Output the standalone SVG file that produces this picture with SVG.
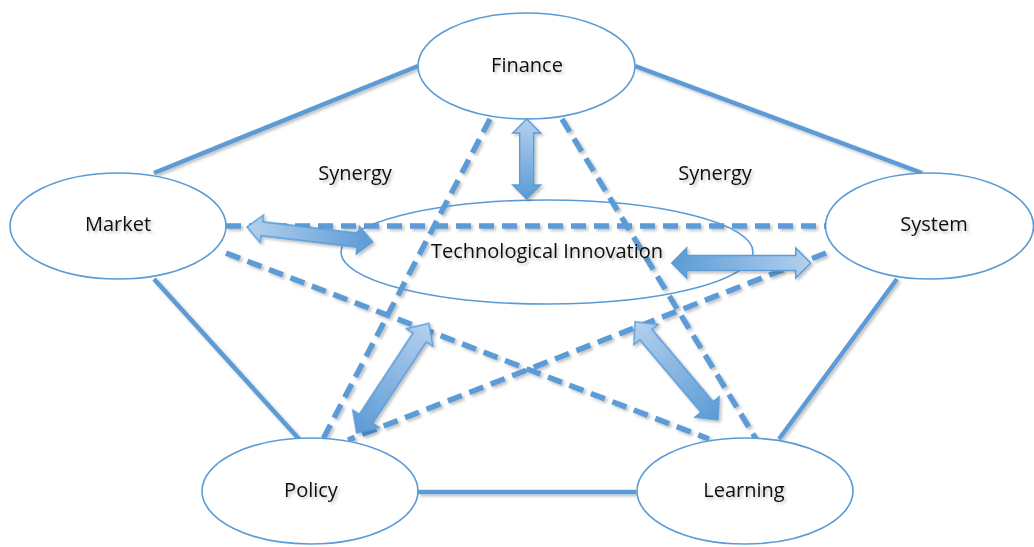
<svg xmlns="http://www.w3.org/2000/svg" width="1034" height="547" viewBox="0 0 1034 547">
  <style>
    .node { fill: #ffffff; stroke: #5b9bd5; stroke-width: 1.6; }
    .core { fill: none; stroke: #5b9bd5; stroke-width: 1.6; }
    .link { stroke: #5b9bd5; stroke-width: 4.5; fill: none; }
    .dash { stroke: #5b9bd5; stroke-width: 5.5; fill: none; stroke-dasharray: 15 8; }
    .barrow { stroke: #5b9bd5; stroke-width: 1.4; stroke-linejoin: miter; }
    text { font-family: "Open Sans", "Noto Sans", "Liberation Sans", sans-serif; font-size: 20px; fill: #111111; text-anchor: middle; }
  </style>
  <defs>
    <filter id="shade" x="-20%" y="-20%" width="140%" height="140%">
      <feDropShadow dx="2" dy="2" stdDeviation="1.5" flood-color="#000000" flood-opacity="0.25"/>
    </filter>
    <linearGradient id="lightToDark" x1="0" y1="0" x2="1" y2="0">
      <stop offset="0" stop-color="#b4d0ee"/>
      <stop offset="1" stop-color="#5b9bd5"/>
    </linearGradient>
    <linearGradient id="darkToLight" x1="0" y1="0" x2="1" y2="0">
      <stop offset="0" stop-color="#5b9bd5"/>
      <stop offset="1" stop-color="#b4d0ee"/>
    </linearGradient>
  </defs>

  <!-- connectors between the surrounding factors -->
  <g id="connectors" filter="url(#shade)">
    <line class="link" x1="418" y1="66" x2="154" y2="173"/>
    <line class="link" x1="635" y1="66" x2="922" y2="173"/>
    <line class="link" x1="154" y1="279" x2="299" y2="439"/>
    <line class="link" x1="897" y1="279" x2="779" y2="439"/>
    <line class="link" x1="418" y1="492" x2="636" y2="492"/>

    <line class="dash" x1="226" y1="226" x2="826" y2="226"/>
    <line class="dash" x1="226" y1="253" x2="709" y2="439"/>
    <line class="dash" x1="826" y1="253" x2="348" y2="440"/>
    <line class="dash" x1="490" y1="119" x2="323" y2="439"/>
    <line class="dash" x1="562" y1="119" x2="756" y2="439"/>
  </g>

  <!-- nodes -->
  <g id="finance">
    <ellipse class="node" cx="526.5" cy="66" rx="108.5" ry="53"/>
    <text x="527" y="72" filter="url(#shade)">Finance</text>
  </g>
  <g id="market">
    <ellipse class="node" cx="118" cy="226" rx="108" ry="53"/>
    <text x="118" y="231" filter="url(#shade)">Market</text>
  </g>
  <g id="system">
    <ellipse class="node" cx="929.5" cy="226" rx="104" ry="53"/>
    <text x="934" y="231" filter="url(#shade)">System</text>
  </g>
  <g id="policy">
    <ellipse class="node" cx="310" cy="491" rx="108" ry="53"/>
    <text x="311" y="497" filter="url(#shade)">Policy</text>
  </g>
  <g id="learning">
    <ellipse class="node" cx="745" cy="491" rx="108" ry="53"/>
    <text x="744" y="497" filter="url(#shade)">Learning</text>
  </g>
  <g id="technological-innovation">
    <ellipse class="core" cx="547" cy="252" rx="206" ry="52"/>
    <text x="547" y="258" filter="url(#shade)">Technological Innovation</text>
  </g>

  <!-- synergy labels -->
  <g id="synergy-left"><text x="355" y="180" filter="url(#shade)">Synergy</text></g>
  <g id="synergy-right"><text x="715" y="180" filter="url(#shade)">Synergy</text></g>

  <!-- two-way block arrows between innovation and the factors -->
  <g id="interactions" filter="url(#shade)">
    <path class="barrow" fill="url(#lightToDark)" transform="translate(526.7 119) rotate(90)"
          d="M0 0 L14 -14 L14 -7 L66 -7 L66 -14 L80 0 L66 14 L66 7 L14 7 L14 14 Z"/>
    <path class="barrow" fill="url(#lightToDark)" transform="translate(247 227) rotate(6.8)"
          d="M0 0 L15 -14 L15 -7 L111.6 -7 L111.6 -14 L126.6 0 L111.6 14 L111.6 7 L15 7 L15 14 Z"/>
    <path class="barrow" fill="url(#darkToLight)" transform="translate(671.7 263)"
          d="M0 0 L15 -15 L15 -7.5 L124 -7.5 L124 -15 L139 0 L124 15 L124 7.5 L15 7.5 L15 15 Z"/>
    <path class="barrow" fill="url(#lightToDark)" transform="translate(429 323.3) rotate(123.4)"
          d="M0 0 L17 -16 L17 -8 L114.4 -8 L114.4 -16 L131.4 0 L114.4 16 L114.4 8 L17 8 L17 16 Z"/>
    <path class="barrow" fill="url(#lightToDark)" transform="translate(635 321.7) rotate(49.8)"
          d="M0 0 L17 -16 L17 -8 L111.6 -8 L111.6 -16 L128.6 0 L111.6 16 L111.6 8 L17 8 L17 16 Z"/>
  </g>
</svg>
